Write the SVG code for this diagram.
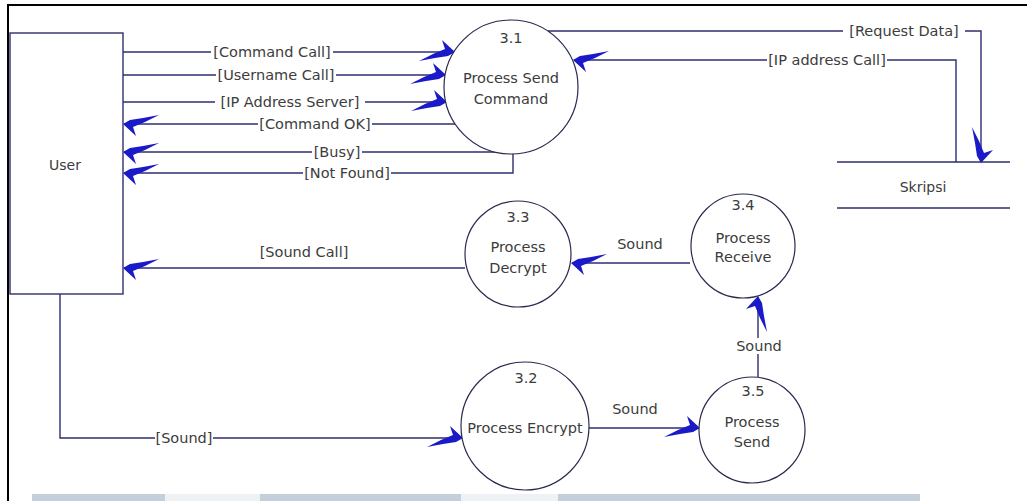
<svg xmlns="http://www.w3.org/2000/svg" width="1027" height="501" viewBox="0 0 1027 501">
<style>
.frame{fill:none;stroke:#000;stroke-width:2}
.ent{fill:#fff;stroke:#2e2e6e;stroke-width:1.4}
.proc{fill:#fff;stroke:#2a2a4e;stroke-width:1.2}
.store{stroke:#2e2e6e;stroke-width:1.4}
.flow{fill:none;stroke:#2e2e72;stroke-width:1.4;marker-end:url(#ah)}
text{font-family:"DejaVu Sans","Liberation Sans",sans-serif;fill:#3c3c3c;text-anchor:middle}
.t{font-size:14px}
.l{font-size:14.5px}
.bg{fill:#fff}
.band{fill:#c3d0dc}
.band2{fill:#eef2f5}
</style>
<defs>
<marker id="ah" viewBox="-40 -16 46 32" refX="0" refY="0" markerWidth="46" markerHeight="32" markerUnits="userSpaceOnUse" orient="auto">
<path d="M1,0 L-12,-12 L-9,-3 L-21,2 L-35,9 L-19,6 L-6,4 Z" fill="#1a1ac8"/>
</marker>
</defs>
<path class="frame" d="M8,501 V5 H1027"/>
<rect class="band" x="32" y="494" width="133" height="7"/>
<rect class="band2" x="165" y="494" width="95" height="7"/>
<rect class="band" x="260" y="494" width="201" height="7"/>
<rect class="band2" x="461" y="494" width="97" height="7"/>
<rect class="band" x="558" y="494" width="362" height="7"/>
<g id="connectors">
<path class="flow" d="M123,52 H454"/>
<path class="flow" d="M123,75 H445"/>
<path class="flow" d="M123,102 H446"/>
<path class="flow" d="M455,124 H124"/>
<path class="flow" d="M505,152 H124"/>
<path class="flow" d="M513,153 V173 H124"/>
<path class="flow" d="M548,31 H981 V162"/>
<path class="flow" d="M956,162 V60 H574"/>
<path class="flow" d="M465,268 H124"/>
<path class="flow" d="M690,263 H572"/>
<path class="flow" d="M60,294 V438 H462"/>
<path class="flow" d="M589,428 H699"/>
<path class="flow" d="M758,377 V297"/>
<rect class="bg" x="211" y="44" width="122" height="16"/>
<rect class="bg" x="216" y="67" width="120" height="16"/>
<rect class="bg" x="215" y="94" width="150" height="16"/>
<rect class="bg" x="258" y="116" width="114" height="16"/>
<rect class="bg" x="312" y="144" width="50" height="16"/>
<rect class="bg" x="303" y="165" width="88" height="16"/>
<rect class="bg" x="843" y="23" width="122" height="16"/>
<rect class="bg" x="767" y="52" width="120" height="16"/>
<rect class="bg" x="155" y="430" width="58" height="16"/>
<rect class="bg" x="735" y="338" width="48" height="16"/>
<text class="l" x="272" y="57">[Command Call]</text>
<text class="l" x="276" y="80">[Username Call]</text>
<text class="l" x="290" y="107">[IP Address Server]</text>
<text class="l" x="315" y="129">[Command OK]</text>
<text class="l" x="337" y="157">[Busy]</text>
<text class="l" x="347" y="178">[Not Found]</text>
<text class="l" x="904" y="36">[Request Data]</text>
<text class="l" x="827" y="65">[IP address Call]</text>
<text class="l" x="304" y="257">[Sound Call]</text>
<text class="l" x="640" y="249">Sound</text>
<text class="l" x="184" y="443">[Sound]</text>
<text class="l" x="635" y="414">Sound</text>
<text class="l" x="759" y="351">Sound</text>
</g>
<g id="user">
<rect class="ent" x="10" y="33" width="113" height="261"/>
<text class="t" x="65" y="170">User</text>
</g>
<g id="skripsi">
<line class="store" x1="837" y1="162" x2="1010" y2="162"/>
<line class="store" x1="837" y1="208" x2="1010" y2="208"/>
<text class="t" x="923" y="192">Skripsi</text>
</g>
<g id="p31">
<circle class="proc" cx="511" cy="87" r="67"/>
<text class="l" x="511" y="43">3.1</text>
<text class="l" x="511" y="83">Process Send</text>
<text class="l" x="511" y="104">Command</text>
</g>
<g id="p33">
<circle class="proc" cx="518" cy="254" r="53"/>
<text class="l" x="518" y="222">3.3</text>
<text class="l" x="518" y="252">Process</text>
<text class="l" x="518" y="273">Decrypt</text>
</g>
<g id="p34">
<circle class="proc" cx="743" cy="246" r="52"/>
<text class="l" x="743" y="210">3.4</text>
<text class="l" x="743" y="243">Process</text>
<text class="l" x="743" y="262">Receive</text>
</g>
<g id="p32">
<circle class="proc" cx="525" cy="426" r="64"/>
<text class="l" x="526" y="383">3.2</text>
<text class="l" x="525" y="433">Process Encrypt</text>
</g>
<g id="p35">
<circle class="proc" cx="752" cy="430" r="53"/>
<text class="l" x="753" y="396">3.5</text>
<text class="l" x="752" y="427">Process</text>
<text class="l" x="752" y="447">Send</text>
</g>
</svg>
